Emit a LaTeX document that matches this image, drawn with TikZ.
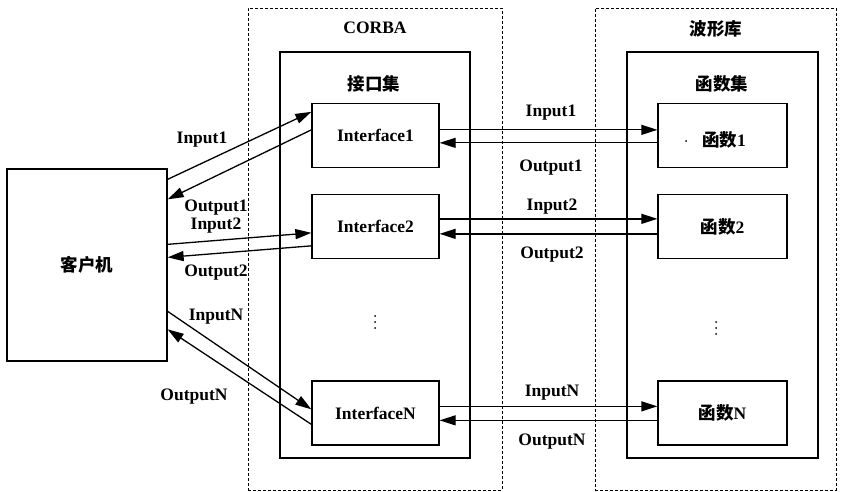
\documentclass[tikz,border=0pt]{standalone}
\usepackage{fontspec}
\setmainfont{Liberation Serif}
\newfontfamily\cjk{Noto Sans CJK SC}
\usetikzlibrary{arrows.meta}
\tikzset{
  x=1pt, y=-1pt,
  every node/.style={font=\fontsize{17.5}{20}\selectfont\bfseries},
  box/.style={draw, line width=1.3pt, inner sep=0pt},
  itembox/.style={box, minimum width=127pt, minimum height=64pt},
  groupbox/.style={draw, line width=1.2pt, inner sep=0pt},
  outerbox/.style={draw, line width=0.9pt, dash pattern=on 3pt off 2pt, inner sep=0pt},
  flow/.style={line width=1.3pt, -{Triangle[length=16pt,width=10pt]}},
  lbl/.style={inner sep=0pt},
  vdot/.style={fill, circle, inner sep=0pt, minimum size=2pt}
}
\begin{document}
\begin{tikzpicture}
\useasboundingbox (0,0) rectangle (841,492);

% outer dashed containers
\node[outerbox, minimum width=254pt, minimum height=482pt] (corba) at (375,249) {};
\node[outerbox, minimum width=241pt, minimum height=482pt] (wlib) at (715.5,249) {};
\node[lbl] (corbalbl) at (375,28) {CORBA};
\node[lbl] (wliblbl) at (716,29) {\cjk 波形库};

% inner groups
\node[groupbox, minimum width=190pt, minimum height=406pt] (ifset) at (375,255) {};
\node[groupbox, minimum width=191pt, minimum height=406pt] (fnset) at (722.5,255) {};
\node[lbl] (ifsetlbl) at (374,84) {\cjk 接口集};
\node[lbl] (fnsetlbl) at (722,84) {\cjk 函数集};

% client
\node[box, minimum width=160pt, minimum height=192pt] (client) at (87,265) {};
\node[lbl] at (87,265) {\cjk 客户机};

% interface boxes
\node[itembox] (i1) at (375.5,135.5) {Interface1};
\node[itembox] (i2) at (375.5,226.5) {Interface2};
\node[itembox] (iN) at (375.5,413) {InterfaceN};

% function boxes
\node[itembox, minimum width=129pt] (f1) at (722.5,135.5) {};
\node[lbl] at (724,140) {{\cjk 函数}1};
\node[vdot] (stray) at (686,141) {};
\node[itembox, minimum width=129pt] (f2) at (722.5,226.5) {{\cjk 函数}2};
\node[itembox, minimum width=129pt] (fN) at (722.5,413) {{\cjk 函数}N};

% ellipsis dots
\node[vdot] (d1) at (375,316) {};
\node[vdot] (d2) at (375,322) {};
\node[vdot] (d3) at (375,328) {};
\node[vdot] (e1) at (716,322) {};
\node[vdot] (e2) at (716,328) {};
\node[vdot] (e3) at (716,334) {};

% client <-> interfaces
\draw[flow] ([yshift=-11pt]client.north east) -- ([yshift=-9pt]i1.north west);
\draw[flow] ([yshift=-27pt]i1.north west) -- ([yshift=-31pt]client.north east);
\draw[flow] ([yshift=-76pt]client.north east) -- ([yshift=-39pt]i2.north west);
\draw[flow] ([yshift=-52pt]i2.north west) -- ([yshift=-89pt]client.north east);
\draw[flow] ([yshift=-143pt]client.north east) -- ([yshift=-29pt]iN.north west);
\draw[flow] ([yshift=-44pt]iN.north west) -- ([yshift=-161pt]client.north east);

% interfaces <-> functions
\draw[flow] ([yshift=-27pt]i1.north east) -- ([yshift=-27pt]f1.north west);
\draw[flow] ([yshift=-40pt]f1.north west) -- ([yshift=-40pt]i1.north east);
\draw[flow] ([yshift=-25pt]i2.north east) -- ([yshift=-25pt]f2.north west);
\draw[flow] ([yshift=-40pt]f2.north west) -- ([yshift=-40pt]i2.north east);
\draw[flow] ([yshift=-26pt]iN.north east) -- ([yshift=-26pt]fN.north west);
\draw[flow] ([yshift=-40pt]fN.north west) -- ([yshift=-40pt]iN.north east);

% left labels
\node[lbl] at (202,140) {Input1};
\node[lbl] at (216,208) {Output1};
\node[lbl] at (216,226) {Input2};
\node[lbl] at (216,273) {Output2};
\node[lbl] at (216,317) {InputN};
\node[lbl] at (194,397) {OutputN};

% right labels
\node[lbl] at (551,113) {Input1};
\node[lbl] at (551,168) {Output1};
\node[lbl] at (552,207) {Input2};
\node[lbl] at (552,255) {Output2};
\node[lbl] at (552,393) {InputN};
\node[lbl] at (552,442) {OutputN};
\end{tikzpicture}
\end{document}
